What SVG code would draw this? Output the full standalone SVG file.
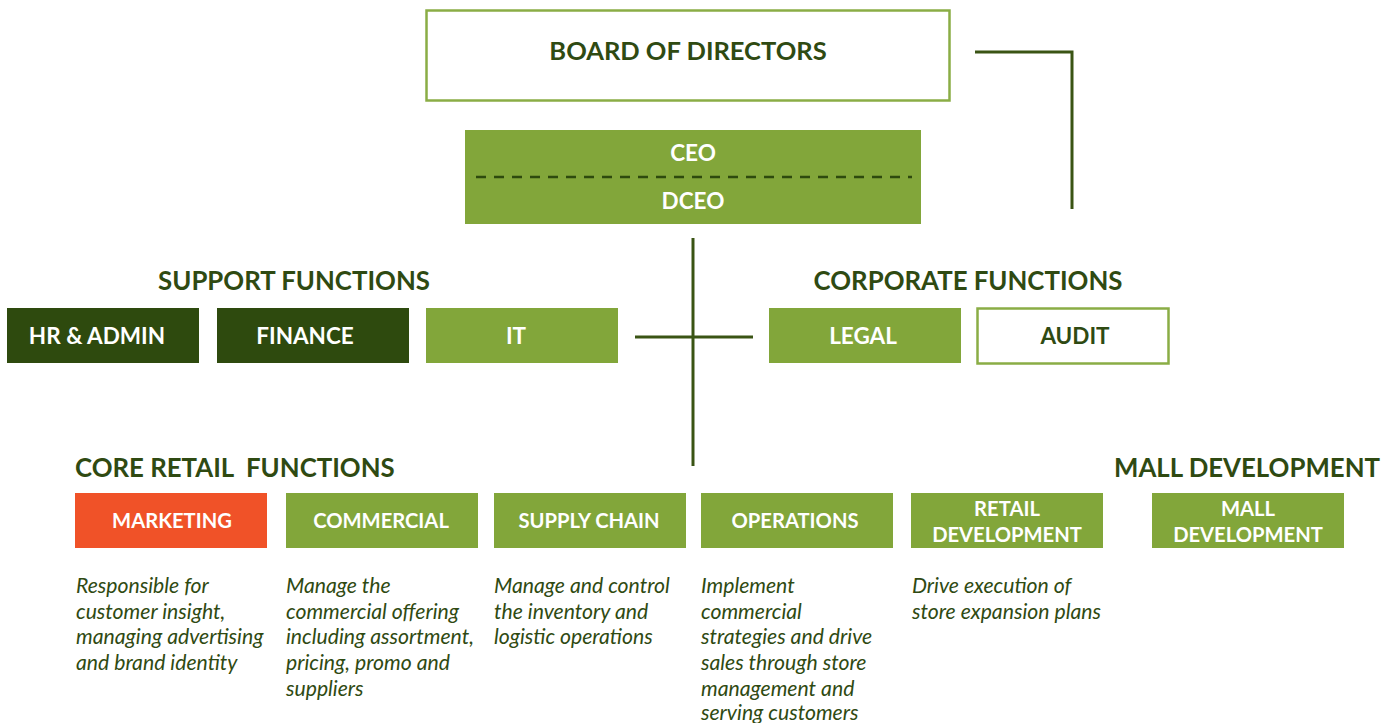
<svg xmlns="http://www.w3.org/2000/svg" width="1397" height="723" viewBox="0 0 1397 723">
  <style>
    .bg { fill: #ffffff; }
    .box-green { fill: #82a63a; }
    .box-dark { fill: #2e4a0e; }
    .box-orange { fill: #f05228; }
    .box-outline { fill: #ffffff; stroke: #8aad45; stroke-width: 2.5; }
    .lbl { font-family: Lato, "Liberation Sans", sans-serif; font-weight: bold; font-size: 22.5px; fill: #ffffff; text-anchor: middle; }
    .lbl-sm { font-size: 20.2px; }
    .lbl-lg { font-size: 25.5px; }
    .lbl-dark { fill: #2f4a12; }
    .head { font-family: Lato, "Liberation Sans", sans-serif; font-weight: bold; font-size: 25.8px; fill: #2f4a12; white-space: pre; }
    .desc { font-family: Lato, "Liberation Sans", sans-serif; font-style: italic; font-size: 21.2px; fill: #2f4a12; }
    .conn { stroke: #3a5414; stroke-width: 3; fill: none; }
  </style>
  <rect class="bg" x="0" y="0" width="1397" height="723"/>

  <!-- connectors -->
  <g id="connectors">
    <polyline class="conn" points="975,52 1072,52 1072,209"/>
    <line class="conn" x1="693" y1="238" x2="693" y2="466"/>
    <line class="conn" x1="635" y1="337" x2="753" y2="337"/>
  </g>

  <!-- top level -->
  <g id="board">
    <rect class="box-outline" x="426.5" y="10.5" width="523" height="90"/>
    <text class="lbl lbl-lg lbl-dark" x="688" y="60">BOARD OF DIRECTORS</text>
  </g>
  <g id="ceo">
    <rect class="box-green" x="465" y="130" width="456" height="94"/>
    <text class="lbl" x="693" y="161">CEO</text>
    <line x1="476" y1="177" x2="912" y2="177" stroke="#2e4a0e" stroke-width="2.5" stroke-dasharray="10 8"/>
    <text class="lbl" x="693" y="209">DCEO</text>
  </g>

  <!-- section headings -->
  <text class="head" x="294" y="290" text-anchor="middle">SUPPORT FUNCTIONS</text>
  <text class="head" x="968" y="290" text-anchor="middle">CORPORATE FUNCTIONS</text>
  <text class="head" x="75" y="477" xml:space="preserve">CORE RETAIL  FUNCTIONS</text>
  <text class="head" x="1380" y="477" text-anchor="end">MALL DEVELOPMENT</text>

  <!-- support functions -->
  <g id="hr-admin">
    <rect class="box-dark" x="7" y="308" width="192" height="55"/>
    <text class="lbl" x="97" y="344">HR &amp; ADMIN</text>
  </g>
  <g id="finance">
    <rect class="box-dark" x="217" y="308" width="192" height="55"/>
    <text class="lbl" x="305" y="344">FINANCE</text>
  </g>
  <g id="it">
    <rect class="box-green" x="426" y="308" width="192" height="55"/>
    <text class="lbl" x="516" y="344">IT</text>
  </g>

  <!-- corporate functions -->
  <g id="legal">
    <rect class="box-green" x="769" y="308" width="192" height="55"/>
    <text class="lbl" x="863" y="344">LEGAL</text>
  </g>
  <g id="audit">
    <rect class="box-outline" x="977.5" y="308.5" width="191" height="55"/>
    <text class="lbl lbl-dark" x="1075" y="344">AUDIT</text>
  </g>

  <!-- core retail functions -->
  <g id="marketing">
    <rect class="box-orange" x="75" y="493" width="192" height="55"/>
    <text class="lbl lbl-sm" x="172" y="528">MARKETING</text>
    <text class="desc" x="76" y="593">Responsible for</text>
    <text class="desc" x="76" y="619">customer insight,</text>
    <text class="desc" x="76" y="644">managing advertising</text>
    <text class="desc" x="76" y="670">and brand identity</text>
  </g>
  <g id="commercial">
    <rect class="box-green" x="286" y="493" width="192" height="55"/>
    <text class="lbl lbl-sm" x="381" y="528">COMMERCIAL</text>
    <text class="desc" x="286" y="593">Manage the</text>
    <text class="desc" x="286" y="619">commercial offering</text>
    <text class="desc" x="286" y="644">including assortment,</text>
    <text class="desc" x="286" y="670">pricing, promo and</text>
    <text class="desc" x="286" y="696">suppliers</text>
  </g>
  <g id="supply-chain">
    <rect class="box-green" x="494" y="493" width="192" height="55"/>
    <text class="lbl lbl-sm" x="589" y="528">SUPPLY CHAIN</text>
    <text class="desc" x="494" y="593">Manage and control</text>
    <text class="desc" x="494" y="619">the inventory and</text>
    <text class="desc" x="494" y="644">logistic operations</text>
  </g>
  <g id="operations">
    <rect class="box-green" x="701" y="493" width="192" height="55"/>
    <text class="lbl lbl-sm" x="795" y="528">OPERATIONS</text>
    <text class="desc" x="701" y="593">Implement</text>
    <text class="desc" x="701" y="619">commercial</text>
    <text class="desc" x="701" y="644">strategies and drive</text>
    <text class="desc" x="701" y="670">sales through store</text>
    <text class="desc" x="701" y="696">management and</text>
    <text class="desc" x="701" y="720">serving customers</text>
  </g>
  <g id="retail-development">
    <rect class="box-green" x="911" y="493" width="192" height="55"/>
    <text class="lbl lbl-sm" x="1007" y="516">RETAIL</text>
    <text class="lbl lbl-sm" x="1007" y="542">DEVELOPMENT</text>
    <text class="desc" x="912" y="593">Drive execution of</text>
    <text class="desc" x="912" y="619">store expansion plans</text>
  </g>

  <!-- mall development -->
  <g id="mall-development">
    <rect class="box-green" x="1152" y="493" width="192" height="55"/>
    <text class="lbl lbl-sm" x="1248" y="516">MALL</text>
    <text class="lbl lbl-sm" x="1248" y="542">DEVELOPMENT</text>
  </g>
</svg>
